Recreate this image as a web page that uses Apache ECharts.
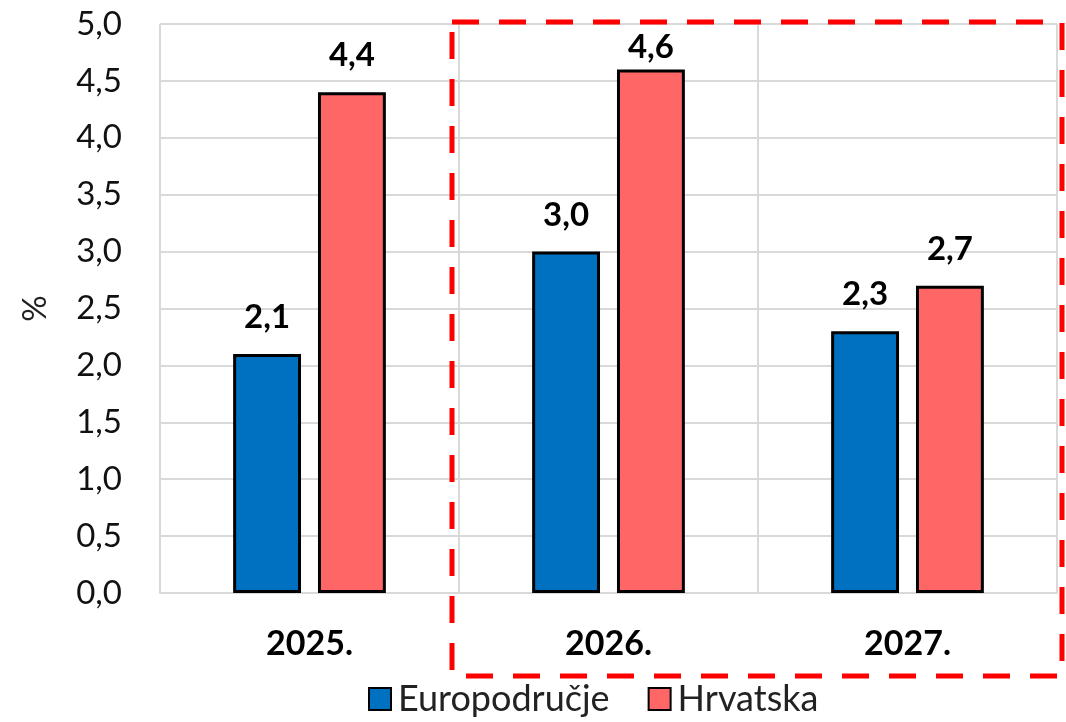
<!DOCTYPE html>
<html>
<head>
<meta charset="utf-8">
<script src="https://cdn.jsdelivr.net/npm/echarts@6/dist/echarts.min.js"></script>
<style>html,body{margin:0;padding:0;background:#fff;}#c{width:1066px;height:722px;}</style>
</head>
<body>
<div id="c"></div>
<script>
const categories = ['2025.', '2026.', '2027.'];
const euroArea = [2.1, 3.0, 2.3];
const croatia = [4.4, 4.6, 2.7];
const seriesNames = ['Europodručje', 'Hrvatska'];
const yTicks = { min: 0, max: 5, interval: 0.5 };

const fmt = v => Number(v).toFixed(1).replace('.', ',');
const FONT = 'Lato';
// labels that would leave the plot area are pulled closer to the bar (as in the original)
const withLabelFit = arr => arr.map(v => v > 4.5 ? { value: v, label: { distance: 6 } } : v);

const chart = echarts.init(document.getElementById('c'));
chart.setOption({
  animation: false,
  backgroundColor: '#ffffff',
  textStyle: { fontFamily: FONT },
  grid: { left: 160, right: 9, top: 24, bottom: 129 },
  legend: {
    data: seriesNames,
    bottom: 0,
    left: 363,
    itemWidth: 22,
    itemHeight: 22,
    itemGap: 38,
    icon: 'rect',
    itemStyle: { borderColor: '#000', borderWidth: 2 },
    textStyle: { fontSize: 36, color: '#222', fontFamily: FONT, padding: [0, 0, 0, 2] }
  },
  xAxis: {
    type: 'category',
    data: categories,
    axisLine: { show: true, lineStyle: { color: '#D9D9D9', width: 2 } },
    axisTick: { show: false },
    splitLine: { show: true, lineStyle: { color: '#D9D9D9', width: 2 } },
    axisLabel: { margin: 34, fontSize: 34, fontWeight: 'bold', color: '#000', fontFamily: FONT }
  },
  yAxis: {
    type: 'value',
    min: yTicks.min,
    max: yTicks.max,
    interval: yTicks.interval,
    name: '%',
    nameLocation: 'middle',
    nameGap: 108,
    nameRotate: 90,
    nameTextStyle: { fontSize: 33, color: '#222', fontFamily: FONT },
    axisLine: { show: false },
    axisTick: { show: false },
    splitLine: { show: true, lineStyle: { color: '#D9D9D9', width: 2 } },
    axisLabel: { margin: 38, fontSize: 33, color: '#111', fontFamily: FONT, formatter: v => fmt(v) }
  },
  series: [
    {
      name: seriesNames[0],
      type: 'bar',
      data: withLabelFit(euroArea),
      barWidth: '22.7%',
      barGap: '25%',
      itemStyle: { color: '#0070C0', borderColor: '#000', borderWidth: 3 },
      label: {
        show: true, position: 'top', distance: 20,
        fontSize: 33, fontWeight: 'bold', color: '#000', fontFamily: FONT,
        formatter: p => fmt(p.value)
      }
    },
    {
      name: seriesNames[1],
      type: 'bar',
      data: withLabelFit(croatia),
      barWidth: '22.7%',
      barGap: '25%',
      itemStyle: { color: '#FF6666', borderColor: '#000', borderWidth: 3 },
      label: {
        show: true, position: 'top', distance: 20,
        fontSize: 33, fontWeight: 'bold', color: '#000', fontFamily: FONT,
        formatter: p => fmt(p.value)
      }
    }
  ],
  graphic: [{
    type: 'rect',
    z: 100,
    shape: { x: 452, y: 22, width: 610, height: 654 },
    style: { fill: null, stroke: '#FF0000', lineWidth: 5, lineDash: [27, 20] }
  }]
});
</script>
</body>
</html>
